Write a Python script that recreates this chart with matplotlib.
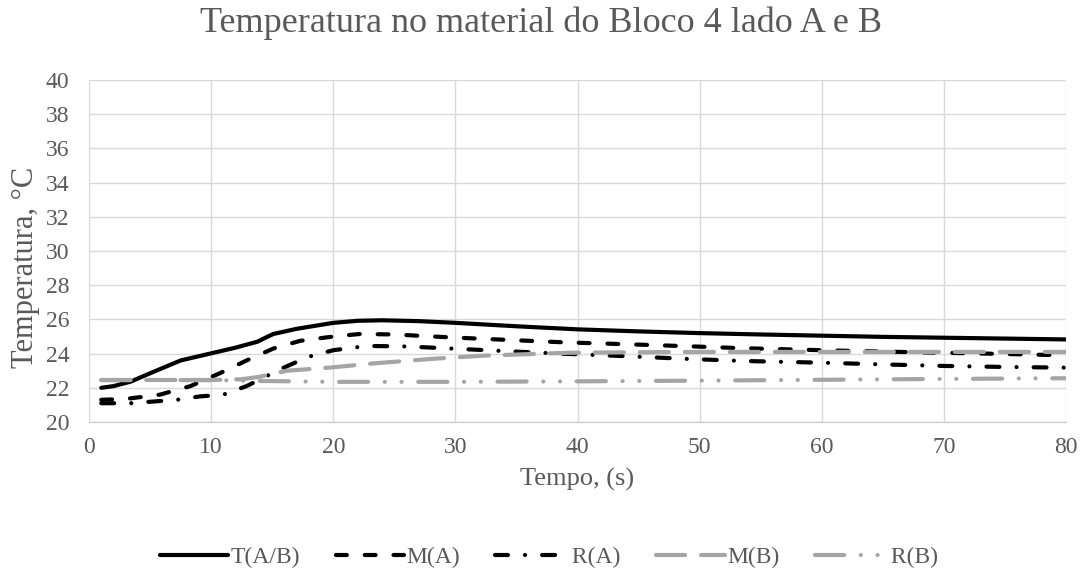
import numpy as np
import matplotlib
matplotlib.use("Agg")
import matplotlib.pyplot as plt

plt.rcParams['font.family'] = ['Liberation Serif', 'DejaVu Serif']

# time samples (s) and temperatures (°C) for each sensor
t_TAB = [1, 2, 3.4, 5, 7.5, 10.2, 12, 13.8, 14.5, 15.1, 17, 20, 22, 24, 27, 30, 35, 40, 45, 50, 55, 60, 65, 70, 75, 80]
v_TAB = [22.0, 22.1, 22.36, 22.85, 23.6, 24.05, 24.35, 24.7, 24.95, 25.15, 25.45, 25.8, 25.92, 25.95, 25.9, 25.8, 25.6, 25.42, 25.3, 25.2, 25.12, 25.05, 24.98, 24.93, 24.88, 24.83]

t_MA = [1, 3, 5.8, 8.3, 10.7, 12.9, 15.1, 17.3, 20, 22.2, 25, 29.6, 35, 38.9, 44, 48.7, 53.4, 60, 65, 70, 75, 80]
v_MA = [21.3, 21.35, 21.6, 22.1, 22.85, 23.6, 24.3, 24.75, 25.0, 25.15, 25.12, 24.95, 24.78, 24.66, 24.55, 24.44, 24.32, 24.2, 24.12, 24.05, 23.98, 23.9]

t_RA = [1, 3.4, 7.2, 9.1, 11, 12.9, 15.7, 17.9, 20, 22.8, 26, 29.6, 34, 38.6, 44, 48.7, 53.6, 60, 65, 70, 75, 80]
v_RA = [21.1, 21.1, 21.3, 21.5, 21.6, 22.1, 23.1, 23.8, 24.2, 24.45, 24.42, 24.3, 24.15, 24.0, 23.85, 23.7, 23.57, 23.47, 23.37, 23.28, 23.22, 23.18]

t_MB = [1, 5, 10, 12.5, 14, 16.2, 20, 23.3, 28.2, 32.3, 39.2, 45, 50, 60, 70, 80]
v_MB = [22.46, 22.46, 22.46, 22.5, 22.65, 23.0, 23.2, 23.43, 23.7, 23.88, 24.05, 24.08, 24.1, 24.1, 24.1, 24.1]

t_RB = [1, 10, 14, 20, 30, 40, 50, 60, 70, 80]
v_RB = [22.45, 22.45, 22.4, 22.35, 22.35, 22.38, 22.42, 22.47, 22.52, 22.56]

gray = '#A5A5A5'
txt_color = '#595959'
lw = 3.0

fig = plt.figure(figsize=(10.83, 5.70), dpi=100)
ax = fig.add_axes([0.0822, 0.2596, 0.9021, 0.6000])

ax.plot(t_TAB, v_TAB, color='black', lw=lw, solid_capstyle='round', label='T(A/B)')
ax.plot(t_MA, v_MA, color='black', lw=lw, linestyle=(0, (2.6, 4.3)),
        dash_capstyle='round', label='M(A)')
ax.plot(t_RA, v_RA, color='black', lw=lw, linestyle=(0, (3.1, 4.1, 0.01, 4.1)),
        dash_capstyle='round', label=' R(A)')
ax.plot(t_MB, v_MB, color=gray, lw=lw, linestyle=(0, (7.0, 3.8)),
        dash_capstyle='round', label='M(B)')
ax.plot(t_RB, v_RB, color=gray, lw=lw, linestyle=(0, (7.0, 4.0, 0.01, 4.0, 0.01, 4.0)),
        dash_capstyle='round', label=' R(B)')

ax.set_xlim(0, 80)
ax.set_ylim(20, 40)
ax.set_xticks(np.arange(0, 81, 10))
ax.set_yticks(np.arange(20, 41, 2))
ax.grid(True, color='#D9D9D9', lw=1.0)
ax.set_axisbelow(True)
for side in ['top', 'right', 'left']:
    ax.spines[side].set_visible(False)
ax.spines['bottom'].set_color('#C8C8C8')
ax.tick_params(axis='both', length=0, labelsize=17, colors=txt_color)
ax.tick_params(axis='x', pad=11)
ax.tick_params(axis='y', pad=14)

ax.set_xlabel('Tempo, (s)', fontsize=19, color=txt_color, labelpad=7)
ax.set_ylabel('Temperatura, °C', fontsize=22, color=txt_color)
ax.yaxis.set_label_coords(-0.0506, 0.452)
fig.text(0.5, 0.96, 'Temperatura no material do Bloco 4 lado A e B', ha='center', va='center',
         fontsize=26, color=txt_color)

leg = fig.legend(loc='center', bbox_to_anchor=(0.507, 0.022), ncol=5, frameon=False,
                 fontsize=17, handlelength=2.9, handletextpad=0.1, columnspacing=1.5)
for t in leg.get_texts():
    t.set_color(txt_color)

fig.savefig('out.png', dpi=100)
